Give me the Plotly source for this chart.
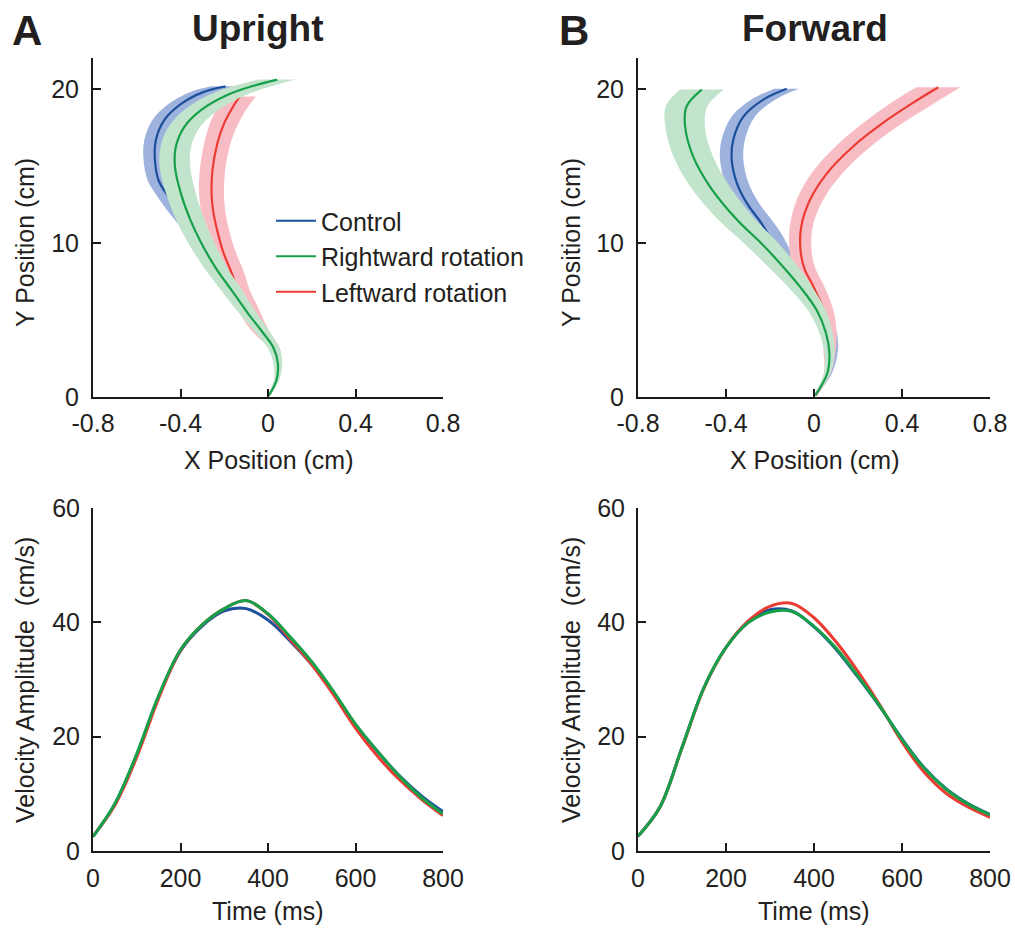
import plotly.graph_objects as go

W, H = 1015, 931
FONT = "Liberation Sans, Arial, sans-serif"
TXT = "#231f20"

SERIES = ["Control", "Rightward rotation", "Leftward rotation"]
LINE_COL = {"Control": "#1c4f9c", "Rightward rotation": "#17a04a", "Leftward rotation": "#ec3b33"}
BAND_COL = {"Control": "#9db3dd", "Rightward rotation": "#c3e4cc", "Leftward rotation": "#f8bdc4"}
DRAW_ORDER = ["Control", "Leftward rotation", "Rightward rotation"]
LEGEND_RANK = {"Control": 1, "Rightward rotation": 2, "Leftward rotation": 3}

# ---------- Trajectories (x mean, y, x SD), Upright ----------
up_ctrl_y = [0.1, 1.1, 2.2, 3.2, 4.3, 5.4, 6.9, 8.4, 10.0, 11.0, 12.0, 13.0, 14.05, 15.4, 16.65, 17.95, 19.0, 19.8, 20.16]
up_ctrl_x = [0.004, 0.039, 0.045, 0.025, -0.03, -0.09, -0.165, -0.235, -0.295, -0.35, -0.405, -0.455, -0.5, -0.517, -0.513, -0.475, -0.399, -0.293, -0.194]
up_ctrl_sd = [0.004, 0.01, 0.015, 0.02, 0.025, 0.03, 0.035, 0.04, 0.045, 0.048, 0.05, 0.05, 0.05, 0.052, 0.053, 0.055, 0.058, 0.062, 0.065]

up_right_y = [0.1, 1.1, 2.2, 3.2, 4.3, 5.4, 6.9, 8.4, 10.0, 11.5, 13.2, 14.9, 16.2, 17.5, 18.6, 19.6, 20.2, 20.6]
up_right_x = [0.004, 0.039, 0.045, 0.025, -0.03, -0.09, -0.165, -0.24, -0.305, -0.355, -0.398, -0.425, -0.422, -0.384, -0.308, -0.186, -0.065, 0.042]
up_right_sd = [0.005, 0.012, 0.02, 0.027, 0.034, 0.04, 0.048, 0.053, 0.06, 0.065, 0.068, 0.07, 0.07, 0.072, 0.078, 0.085, 0.088, 0.085]

up_left_y = [0.1, 1.1, 2.2, 3.2, 4.3, 5.8, 7.0, 8.0, 9.5, 10.8, 12.0, 13.2, 14.7, 16.44, 17.74, 18.93, 19.5]
up_left_x = [0.004, 0.04, 0.045, 0.028, -0.035, -0.095, -0.14, -0.165, -0.207, -0.232, -0.25, -0.258, -0.254, -0.232, -0.201, -0.156, -0.13]
up_left_sd = [0.004, 0.01, 0.015, 0.025, 0.04, 0.05, 0.055, 0.058, 0.057, 0.055, 0.055, 0.057, 0.058, 0.06, 0.065, 0.07, 0.075]

# ---------- Trajectories, Forward ----------
fw_ctrl_y = [0.1, 1.5, 2.8, 4.1, 5.6, 7.2, 8.0, 9.33, 10.0, 10.6, 11.3, 12.6, 13.9, 15.4, 16.7, 18.2, 19.3, 20.0]
fw_ctrl_x = [0.006, 0.065, 0.082, 0.075, 0.03, -0.045, -0.095, -0.165, -0.19, -0.21, -0.24, -0.306, -0.351, -0.374, -0.367, -0.321, -0.23, -0.124]
fw_ctrl_sd = [0.005, 0.015, 0.025, 0.03, 0.035, 0.045, 0.055, 0.065, 0.065, 0.062, 0.058, 0.055, 0.053, 0.053, 0.053, 0.053, 0.055, 0.055]

fw_right_y = [0.1, 1.52, 2.82, 4.12, 5.64, 7.16, 8.68, 9.98, 11.5, 13.66, 15.6, 17.57, 18.87, 19.95]
fw_right_x = [0.005, 0.06, 0.07, 0.055, 0.012, -0.064, -0.155, -0.24, -0.35, -0.473, -0.549, -0.586, -0.579, -0.51]
fw_right_sd = [0.005, 0.015, 0.023, 0.03, 0.04, 0.055, 0.07, 0.078, 0.085, 0.09, 0.09, 0.09, 0.095, 0.1]

fw_left_y = [0.1, 1.5, 2.6, 4.1, 5.65, 7.38, 8.24, 9.33, 11.06, 12.8, 14.5, 16.27, 17.8, 19.1, 20.1]
fw_left_x = [0.008, 0.06, 0.07, 0.068, 0.043, -0.01, -0.041, -0.06, -0.058, -0.018, 0.058, 0.179, 0.315, 0.451, 0.565]
fw_left_sd = [0.005, 0.015, 0.025, 0.035, 0.045, 0.05, 0.05, 0.05, 0.052, 0.06, 0.07, 0.08, 0.09, 0.1, 0.1]

# ---------- Velocity profiles ----------
time_ms = [0, 50, 100, 150, 200, 250, 300, 350, 400, 450, 500, 550, 600, 650, 700, 750, 800]
up_ctrl_v = [2.5, 8.2, 16.8, 27.0, 35.0, 39.4, 42.0, 42.4, 40.4, 36.8, 32.6, 27.6, 22.1, 17.4, 13.2, 9.7, 6.9]
up_right_v = [2.5, 8.3, 17.0, 27.2, 35.2, 39.6, 42.4, 43.8, 41.5, 37.5, 33.1, 27.9, 22.2, 17.5, 13.1, 9.4, 6.5]
up_left_v = [2.6, 8.0, 16.4, 26.7, 35.1, 39.6, 42.4, 43.8, 41.4, 37.1, 32.6, 27.3, 21.5, 16.6, 12.5, 9.1, 6.2]
fw_ctrl_v = [2.6, 7.7, 18.1, 28.6, 35.6, 40.0, 42.2, 42.0, 39.2, 35.3, 30.4, 25.2, 19.6, 14.6, 10.9, 8.3, 6.4]
fw_right_v = [2.6, 7.7, 18.1, 28.6, 35.6, 39.9, 41.8, 41.9, 39.3, 35.5, 30.6, 25.3, 19.5, 14.5, 10.8, 8.2, 6.3]
fw_left_v = [2.6, 7.7, 18.0, 28.5, 35.6, 40.2, 42.8, 43.3, 40.8, 36.6, 31.4, 25.5, 19.1, 13.8, 10.1, 7.7, 5.9]

# ---------- Axis ticks / labels ----------
pos_ticks = [-0.8, -0.4, 0, 0.4, 0.8]
pos_ticktext = ["-0.8", "-0.4", "0", "0.4", "0.8"]
ypos_ticks = [0, 10, 20]
time_ticks = [0, 200, 400, 600, 800]
vel_ticks = [0, 20, 40, 60]

traj = {
    "up": {"Control": (up_ctrl_x, up_ctrl_y, up_ctrl_sd),
           "Rightward rotation": (up_right_x, up_right_y, up_right_sd),
           "Leftward rotation": (up_left_x, up_left_y, up_left_sd)},
    "fw": {"Control": (fw_ctrl_x, fw_ctrl_y, fw_ctrl_sd),
           "Rightward rotation": (fw_right_x, fw_right_y, fw_right_sd),
           "Leftward rotation": (fw_left_x, fw_left_y, fw_left_sd)},
}
vel = {
    "up": {"Control": up_ctrl_v, "Rightward rotation": up_right_v, "Leftward rotation": up_left_v},
    "fw": {"Control": fw_ctrl_v, "Rightward rotation": fw_right_v, "Leftward rotation": fw_left_v},
}

fig = go.Figure()

def add_traj(panel, xa, ya, legend):
    for name in DRAW_ORDER:
        xs, ys, sd = traj[panel][name]
        lo = [x - s for x, s in zip(xs, sd)]
        hi = [x + s for x, s in zip(xs, sd)]
        fig.add_trace(go.Scatter(x=lo, y=ys, mode="lines", line=dict(width=0, shape="spline", color=BAND_COL[name]),
                                 xaxis=xa, yaxis=ya, showlegend=False, hoverinfo="skip"))
        fig.add_trace(go.Scatter(x=hi, y=ys, mode="lines", line=dict(width=0, shape="spline", color=BAND_COL[name]),
                                 fill="tonextx", fillcolor=BAND_COL[name],
                                 xaxis=xa, yaxis=ya, showlegend=False, hoverinfo="skip"))
        fig.add_trace(go.Scatter(x=xs, y=ys, mode="lines", name=name,
                                 line=dict(width=2.2, shape="spline", color=LINE_COL[name]),
                                 xaxis=xa, yaxis=ya, showlegend=legend, legendrank=LEGEND_RANK[name]))

def add_vel(panel, xa, ya):
    for name in DRAW_ORDER:
        fig.add_trace(go.Scatter(x=time_ms, y=vel[panel][name], mode="lines", name=name,
                                 line=dict(width=3, shape="spline", color=LINE_COL[name]),
                                 xaxis=xa, yaxis=ya, showlegend=False))

add_traj("up", "x", "y", True)
add_traj("fw", "x2", "y2", False)
add_vel("up", "x3", "y3")
add_vel("fw", "x4", "y4")

def axis(domain, rng, tickvals, ticktext=None, anchor=None, standoff=10):
    d = dict(domain=domain, range=rng, tickvals=tickvals, showline=True, linecolor="#1a1a1a",
             linewidth=2, ticks="inside", ticklen=8, tickwidth=2, tickcolor="#1a1a1a",
             showgrid=False, zeroline=False, anchor=anchor, fixedrange=True, automargin=False,
             ticklabelstandoff=standoff,
             tickfont=dict(family=FONT, size=25, color=TXT))
    if ticktext is not None:
        d["ticktext"] = ticktext
    return d

xl = [93 / W, 443 / W]
xr = [638 / W, 990 / W]
yt = [1 - 397 / H, 1 - 58 / H]
yb = [1 - 851 / H, 1 - 508 / H]

fig.update_layout(
    width=W, height=H, margin=dict(l=0, r=0, t=0, b=0, autoexpand=False),
    paper_bgcolor="white", plot_bgcolor="white",
    font=dict(family=FONT, size=25, color=TXT),
    xaxis=axis(xl, [-0.8, 0.8], pos_ticks, pos_ticktext, "y", 3),
    yaxis=axis(yt, [0, 22], ypos_ticks, None, "x", 7),
    xaxis2=axis(xr, [-0.8, 0.8], pos_ticks, pos_ticktext, "y2", 3),
    yaxis2=axis(yt, [0, 22], ypos_ticks, None, "x2", 7),
    xaxis3=axis(xl, [0, 800], time_ticks, None, "y3", 4),
    yaxis3=axis(yb, [0, 60], vel_ticks, None, "x3", 6),
    xaxis4=axis(xr, [0, 800], time_ticks, None, "y4", 4),
    yaxis4=axis(yb, [0, 60], vel_ticks, None, "x4", 6),
    legend=dict(x=271 / W, y=1 - 198 / H, xanchor="left", yanchor="top",
                bgcolor="rgba(0,0,0,0)", font=dict(family=FONT, size=25, color=TXT),
                itemwidth=40, tracegroupgap=0, traceorder="normal"),
)

def ann(text, px, py, size=25, bold=False, angle=0):
    fig.add_annotation(text=f"<b>{text}</b>" if bold else text, x=px / W, y=1 - py / H,
                       xref="paper", yref="paper", showarrow=False, textangle=angle,
                       xanchor="center", yanchor="middle",
                       font=dict(family=FONT, size=size, color=TXT))

ann("A", 27, 30, 42, True)
ann("B", 574, 30, 42, True)
ann("Upright", 258, 28, 37, True)
ann("Forward", 815, 28, 37, True)
ann("X Position (cm)", 268, 460)
ann("X Position (cm)", 814, 460)
ann("Y Position (cm)", 25, 243, angle=-90)
ann("Y Position (cm)", 571, 243, angle=-90)
ann("Time (ms)", 268, 911)
ann("Time (ms)", 814, 911)
ann("Velocity Amplitude\u00a0 (cm/s)", 25, 680, angle=-90)
ann("Velocity Amplitude\u00a0 (cm/s)", 571, 680, angle=-90)

fig.write_html("out.html", config={"displayModeBar": False},
               post_script="document.body.style.margin='0px';")
